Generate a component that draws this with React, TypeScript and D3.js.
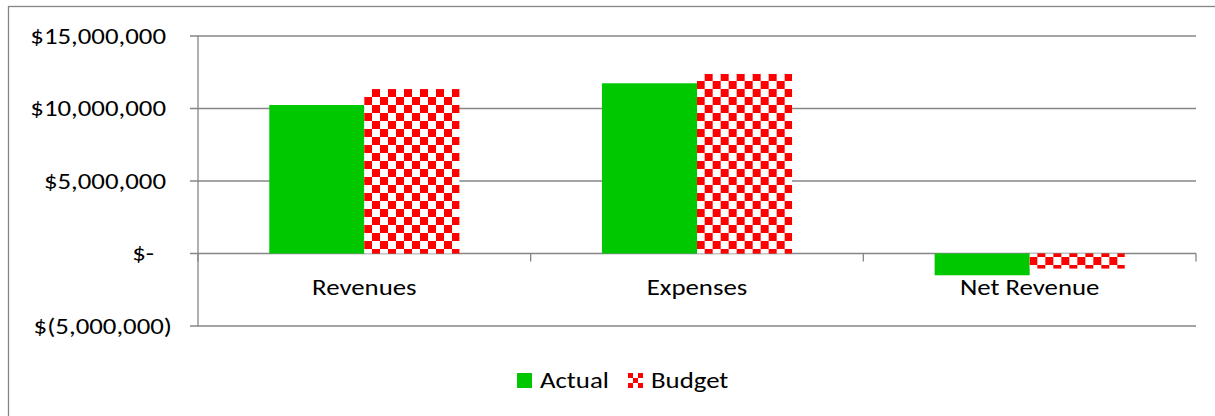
import React, { useRef, useEffect } from 'react';
import * as d3 from 'd3';

// chart data
const categories = ['Revenues', 'Expenses', 'Net Revenue'];
const actualValues = [10240000, 11740000, -1500000];
const budgetValues = [11340000, 12380000, -1040000];
const yTicks = [-5000000, 0, 5000000, 10000000, 15000000];
const seriesNames = ['Actual', 'Budget'];

const FONT = 'Carlito, Calibri, Lato, sans-serif';
const FONT_SIZE = '22px';
const SX = 1.22; // reference text is a little wider than the font

// excel accounting style labels
const fmtMoney = (v: number) => {
  if (v === 0) return '$-';
  const s = d3.format(',')(Math.abs(v));
  return v < 0 ? `$(${s})` : `$${s}`;
};

const App = () => {
  const ref = useRef<SVGSVGElement | null>(null);

  useEffect(() => {
    const svg = d3.select(ref.current);
    svg.selectAll('*').remove();

    const W = 1215, H = 416;
    const plot = { left: 198, right: 1196, top: 36, bottom: 326 };
    const grey = '#868686';

    // checkered fill for budget bars
    const defs = svg.append('defs');
    const pat = defs.append('pattern')
      .attr('id', 'checker')
      .attr('patternUnits', 'userSpaceOnUse')
      .attr('x', 366).attr('y', 89)
      .attr('width', 16).attr('height', 16);
    pat.append('rect').attr('width', 16).attr('height', 16).attr('fill', '#fff');
    pat.append('rect').attr('width', 8).attr('height', 8).attr('fill', '#ff0000');
    pat.append('rect').attr('x', 8).attr('y', 8).attr('width', 8).attr('height', 8).attr('fill', '#ff0000');

    const legPat = defs.append('pattern')
      .attr('id', 'checkerLegend')
      .attr('patternUnits', 'userSpaceOnUse')
      .attr('x', 628).attr('y', 373)
      .attr('width', 10).attr('height', 10);
    legPat.append('rect').attr('width', 10).attr('height', 10).attr('fill', '#ff0000');
    legPat.append('rect').attr('x', 5).attr('width', 5).attr('height', 5).attr('fill', '#fff');
    legPat.append('rect').attr('y', 5).attr('width', 5).attr('height', 5).attr('fill', '#fff');

    // outer chart border (runs off the right and bottom edge)
    svg.append('rect')
      .attr('x', 8.5).attr('y', 6.5)
      .attr('width', W).attr('height', H)
      .attr('fill', 'none').attr('stroke', grey).attr('stroke-width', 1.3);

    const x0 = d3.scaleBand<string>()
      .domain(categories)
      .range([plot.left, plot.right])
      .paddingInner(0).paddingOuter(0);

    const x1 = d3.scaleBand<string>()
      .domain(seriesNames)
      .range([0, x0.bandwidth()])
      .paddingOuter(0.75).paddingInner(0);

    const y = d3.scaleLinear()
      .domain([-5000000, 15000000])
      .range([plot.bottom, plot.top]);

    // gridlines
    svg.append('g').selectAll('line')
      .data(yTicks)
      .enter().append('line')
      .attr('x1', plot.left - 8).attr('x2', plot.right)
      .attr('y1', d => y(d)).attr('y2', d => y(d))
      .attr('stroke', grey).attr('stroke-width', 1.3);

    // value axis line
    svg.append('line')
      .attr('x1', plot.left).attr('x2', plot.left)
      .attr('y1', plot.top).attr('y2', plot.bottom)
      .attr('stroke', grey).attr('stroke-width', 1.3);

    // category ticks below zero line
    const bounds = categories.map(c => x0(c) as number).concat([plot.right]);
    svg.append('g').selectAll('line')
      .data(bounds)
      .enter().append('line')
      .attr('x1', d => d).attr('x2', d => d)
      .attr('y1', y(0)).attr('y2', y(0) + 8)
      .attr('stroke', grey).attr('stroke-width', 1.3);

    // helper for the slightly stretched text
    const label = (g: any, anchor: string) => g
      .attr('text-anchor', anchor)
      .style('font-family', FONT)
      .style('font-size', FONT_SIZE)
      .attr('fill', '#000');

    // y labels
    label(svg.append('g').selectAll('text')
      .data(yTicks)
      .enter().append('text')
      .attr('transform', (d: number) =>
        `translate(${d < 0 ? 172 : d === 0 ? 154 : 166},${y(d) + 7.5}) scale(${SX},1)`), 'end')
      .text((d: number) => fmtMoney(d));

    // bars
    const rows = categories.map((c, i) => ({ cat: c, Actual: actualValues[i], Budget: budgetValues[i] }));
    const groups = svg.append('g').selectAll('g')
      .data(rows)
      .enter().append('g')
      .attr('transform', d => `translate(${x0(d.cat)},0)`);

    groups.selectAll('rect')
      .data(d => seriesNames.map(s => ({ s, v: (d as any)[s] as number })))
      .enter().append('rect')
      .attr('x', d => x1(d.s) as number)
      .attr('width', x1.bandwidth())
      .attr('y', d => y(Math.max(0, d.v)))
      .attr('height', d => Math.abs(y(d.v) - y(0)))
      .attr('fill', d => (d.s === 'Actual' ? '#00c800' : 'url(#checker)'));

    // category labels
    label(svg.append('g').selectAll('text')
      .data(categories)
      .enter().append('text')
      .attr('transform', (d: string) =>
        `translate(${(x0(d) as number) + x0.bandwidth() / 2},${y(0) + 41}) scale(${SX},1)`), 'middle')
      .text((d: string) => d);

    // legend
    const legend = [
      { name: 'Actual', x: 517, fill: '#00c800' },
      { name: 'Budget', x: 628, fill: 'url(#checkerLegend)' },
    ];
    const lg = svg.append('g').selectAll('g')
      .data(legend)
      .enter().append('g');
    lg.append('rect')
      .attr('x', d => d.x).attr('y', 373)
      .attr('width', 15).attr('height', 15)
      .attr('fill', d => d.fill);
    label(lg.append('text')
      .attr('transform', (d: any) => `translate(${d.x + 23},388) scale(${SX},1)`), 'start')
      .text((d: any) => d.name);
  }, []);

  return (
    <svg ref={ref} width={1215} height={416}
      style={{ position: 'absolute', left: 0, top: 0, background: '#fff' }} />
  );
};

export default App;
